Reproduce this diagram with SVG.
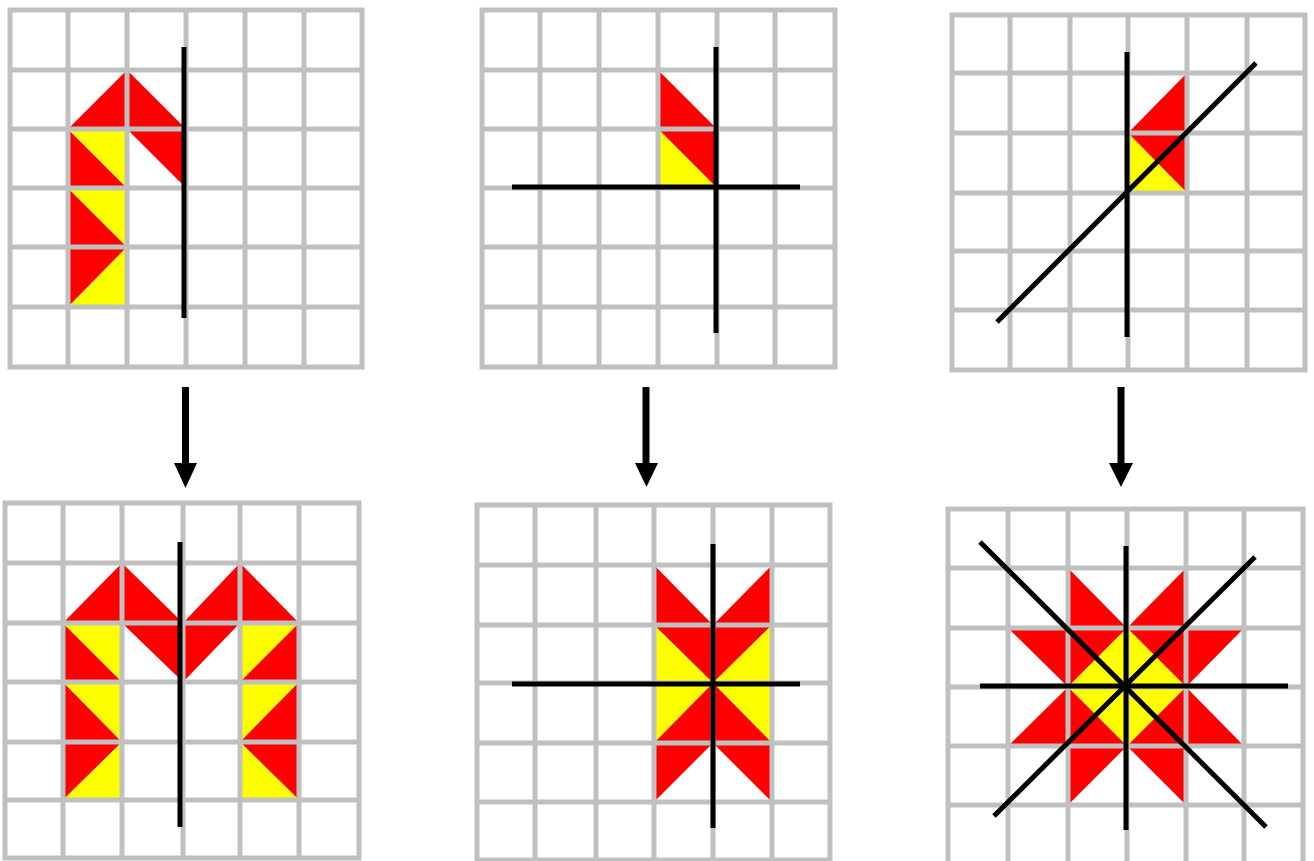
<svg xmlns="http://www.w3.org/2000/svg" width="1314" height="861" viewBox="0 0 1314 861">
<style>
.r{fill:#ff0000}
.y{fill:#ffff00}
.g{fill:none;stroke:#c0c0c0;stroke-width:5;stroke-linecap:square}
.k{stroke:#000;stroke-width:5;fill:none}
.a{stroke:#000;stroke-width:7;fill:none}
.h{fill:#000}
</style>
<rect width="1314" height="861" fill="#fff"/>
<g id="panel1">
<polygon class="r" points="68,129 127,70 127,129"/>
<polygon class="r" points="127,70 127,129 186,129"/>
<polygon class="r" points="68,129 68,188 127,188"/>
<polygon class="y" points="68,129 127,129 127,188"/>
<polygon class="r" points="127,129 186,129 186,188"/>
<polygon class="r" points="68,188 68,247 127,247"/>
<polygon class="y" points="68,188 127,188 127,247"/>
<polygon class="r" points="68,247 127,247 68,307"/>
<polygon class="y" points="127,247 127,307 68,307"/>
<path class="g" d="M10,10H362M10,70H362M10,129H362M10,188H362M10,247H362M10,307H362M10,367H362M10,10V367M68,10V367M127,10V367M186,10V367M245,10V367M304,10V367M362,10V367"/>
<line class="k" x1="184" y1="47" x2="184" y2="318"/>
</g>
<g id="panel2">
<polygon class="r" points="658,70 658,129 717,129"/>
<polygon class="r" points="658,129 717,129 717,188"/>
<polygon class="y" points="658,129 658,188 717,188"/>
<path class="g" d="M482,10H835M482,70H835M482,129H835M482,188H835M482,247H835M482,307H835M482,367H835M482,10V367M540,10V367M599,10V367M658,10V367M717,10V367M775,10V367M835,10V367"/>
<line class="k" x1="716" y1="47" x2="716" y2="333"/>
<line class="k" x1="512" y1="187" x2="800" y2="187"/>
</g>
<g id="panel3">
<polygon class="r" points="1128,133 1187,73 1187,133"/>
<polygon class="r" points="1128,133 1187,133 1187,193"/>
<polygon class="y" points="1128,133 1128,193 1187,193"/>
<path class="g" d="M952,15H1305M952,73H1305M952,133H1305M952,193H1305M952,251H1305M952,310H1305M952,370H1305M952,15V370M1010,15V370M1070,15V370M1128,15V370M1187,15V370M1247,15V370M1305,15V370"/>
<line class="k" x1="1127" y1="52" x2="1127" y2="337"/>
<line class="k" x1="997" y1="322" x2="1256" y2="63"/>
</g>
<g id="panel4">
<polygon class="r" points="63,623 122,563 122,623"/>
<polygon class="r" points="122,563 122,623 183,623"/>
<polygon class="r" points="183,623 240,563 240,623"/>
<polygon class="r" points="240,563 240,623 299,623"/>
<polygon class="r" points="63,623 63,682 122,682"/>
<polygon class="y" points="63,623 122,623 122,682"/>
<polygon class="r" points="122,623 183,623 183,682"/>
<polygon class="r" points="183,623 240,623 183,682"/>
<polygon class="y" points="240,623 299,623 240,682"/>
<polygon class="r" points="299,623 299,682 240,682"/>
<polygon class="r" points="63,682 63,742 122,742"/>
<polygon class="y" points="63,682 122,682 122,742"/>
<polygon class="y" points="240,682 299,682 240,742"/>
<polygon class="r" points="299,682 299,742 240,742"/>
<polygon class="r" points="63,742 122,742 63,800"/>
<polygon class="y" points="122,742 122,800 63,800"/>
<polygon class="r" points="240,742 299,742 299,800"/>
<polygon class="y" points="240,742 240,800 299,800"/>
<path class="g" d="M5,503H359M5,563H359M5,623H359M5,682H359M5,742H359M5,800H359M5,858H359M5,503V858M63,503V858M122,503V858M183,503V858M240,503V858M299,503V858M359,503V858"/>
<line class="k" x1="180" y1="542" x2="180" y2="827"/>
</g>
<g id="panel5">
<polygon class="r" points="654,565 654,625 713,625"/>
<polygon class="r" points="713,625 772,565 772,625"/>
<polygon class="r" points="654,625 713,625 713,683"/>
<polygon class="y" points="654,625 654,683 713,683"/>
<polygon class="r" points="713,625 772,625 713,683"/>
<polygon class="y" points="772,625 772,683 713,683"/>
<polygon class="y" points="654,683 713,683 654,743"/>
<polygon class="r" points="713,683 713,743 654,743"/>
<polygon class="y" points="713,683 772,683 772,743"/>
<polygon class="r" points="713,683 713,743 772,743"/>
<polygon class="r" points="654,743 713,743 654,802"/>
<polygon class="r" points="713,743 772,743 772,802"/>
<path class="g" d="M477,505H830M477,565H830M477,625H830M477,683H830M477,743H830M477,802H830M477,860H830M477,505V860M535,505V860M596,505V860M654,505V860M713,505V860M772,505V860M830,505V860"/>
<line class="k" x1="713" y1="544" x2="713" y2="828"/>
<line class="k" x1="512" y1="684" x2="800" y2="684"/>
</g>
<g id="panel6">
<polygon class="r" points="1068,568 1068,628 1127,628"/>
<polygon class="r" points="1127,628 1186,568 1186,628"/>
<polygon class="r" points="1008,628 1068,628 1068,687"/>
<polygon class="r" points="1068,628 1127,628 1068,687"/>
<polygon class="y" points="1127,628 1127,687 1068,687"/>
<polygon class="r" points="1127,628 1186,628 1186,687"/>
<polygon class="y" points="1127,628 1127,687 1186,687"/>
<polygon class="r" points="1186,628 1244,628 1186,687"/>
<polygon class="r" points="1008,746 1068,687 1068,746"/>
<polygon class="y" points="1068,687 1127,687 1127,746"/>
<polygon class="r" points="1068,687 1068,746 1127,746"/>
<polygon class="y" points="1127,687 1186,687 1127,746"/>
<polygon class="r" points="1186,687 1186,746 1127,746"/>
<polygon class="r" points="1186,687 1186,746 1244,746"/>
<polygon class="r" points="1068,746 1127,746 1068,805"/>
<polygon class="r" points="1127,746 1186,746 1186,805"/>
<path class="g" d="M948,509H1303M948,568H1303M948,628H1303M948,687H1303M948,746H1303M948,805H1303M948,864H1303M948,509V864M1008,509V864M1068,509V864M1127,509V864M1186,509V864M1244,509V864M1303,509V864"/>
<line class="k" x1="1126" y1="546" x2="1126" y2="830"/>
<line class="k" x1="980" y1="686" x2="1288" y2="686"/>
<line class="k" x1="980" y1="542" x2="1266" y2="827"/>
<line class="k" x1="994" y1="816" x2="1255" y2="557"/>
</g>
<g id="connectors">
<line class="a" x1="185.5" y1="387" x2="185.5" y2="465"/>
<polygon class="h" points="174,463 197,463 185.5,488"/>
<line class="a" x1="646" y1="387" x2="646" y2="465"/>
<polygon class="h" points="635,463 658,463 646.5,487"/>
<line class="a" x1="1121" y1="387" x2="1121" y2="465"/>
<polygon class="h" points="1109,463 1133,463 1121,487"/>
</g>
</svg>
